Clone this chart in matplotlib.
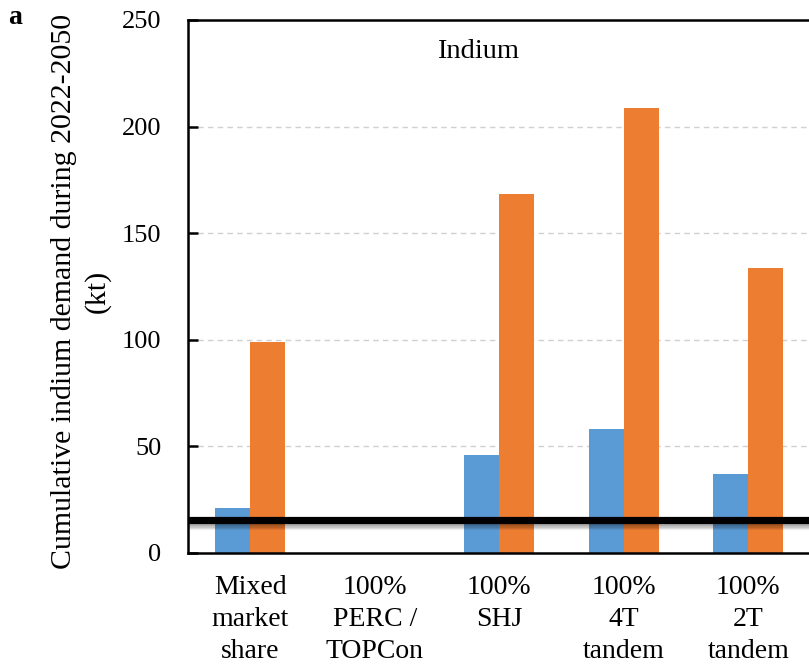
import matplotlib
matplotlib.use("Agg")
import matplotlib.pyplot as plt
import matplotlib.patheffects as pe
import numpy as np

plt.rcParams['font.family'] = ['Liberation Serif', 'DejaVu Serif']

categories = ["Mixed\nmarket\nshare", "100%\nPERC /\nTOPCon", "100%\nSHJ",
              "100%\n4T\ntandem", "100%\n2T\ntandem"]
blue_vals = [21, 0, 46, 58, 37]
orange_vals = [99, 0, 168.5, 208.5, 133.5]
limit_val = 15.3

blue = "#5B9BD5"
orange = "#ED7D31"

fig = plt.figure(figsize=(8.09, 6.64), dpi=100)
ax = fig.add_axes([188/809, 111.3/664, (935-188)/809, 532.7/664])

x = np.arange(len(categories))
w = 0.282
ax.bar(x - w/2, blue_vals, w, color=blue, zorder=2)
ax.bar(x + w/2, orange_vals, w, color=orange, zorder=2)

# thick reference line with a soft shadow underneath
shadows = [pe.SimpleLineShadow(offset=(0, -o), shadow_color="black", alpha=a)
           for o, a in [(4.5, 0.06), (3.5, 0.08), (2.5, 0.1), (1.5, 0.12)]]
ax.axhline(limit_val, color="black", lw=5.2, zorder=4,
           path_effects=shadows + [pe.Normal()])

ax.set_xlim(-0.5, 5.5)
ax.set_ylim(0, 250)
ax.set_yticks([0, 50, 100, 150, 200, 250])
ax.set_xticks(x)
ax.set_xticklabels(categories, fontsize=20, linespacing=1.38)
ax.tick_params(axis="y", direction="in", length=7, width=1.8, pad=19, labelsize=19)
ax.tick_params(axis="x", length=0, pad=16)

ax.yaxis.grid(True, color="#d0d0d0", lw=1.0, dashes=(4, 3))
ax.set_axisbelow(True)

for s in ["left", "bottom", "top"]:
    ax.spines[s].set_linewidth(1.8)
ax.spines["right"].set_visible(False)

ax.text(1.83, 235, "Indium", fontsize=20.5, ha="center", va="center")

fig.text(81/809, 1 - 291/664, "Cumulative indium demand during 2022-2050\n(kt)",
         rotation=90, ha="center", va="center", fontsize=21.5, linespacing=1.3,
         multialignment="center")
fig.text(15.5/809, 1 - 18/664, "a", fontsize=20, fontweight="bold", ha="center", va="center")

fig.savefig("out.png", dpi=100)
